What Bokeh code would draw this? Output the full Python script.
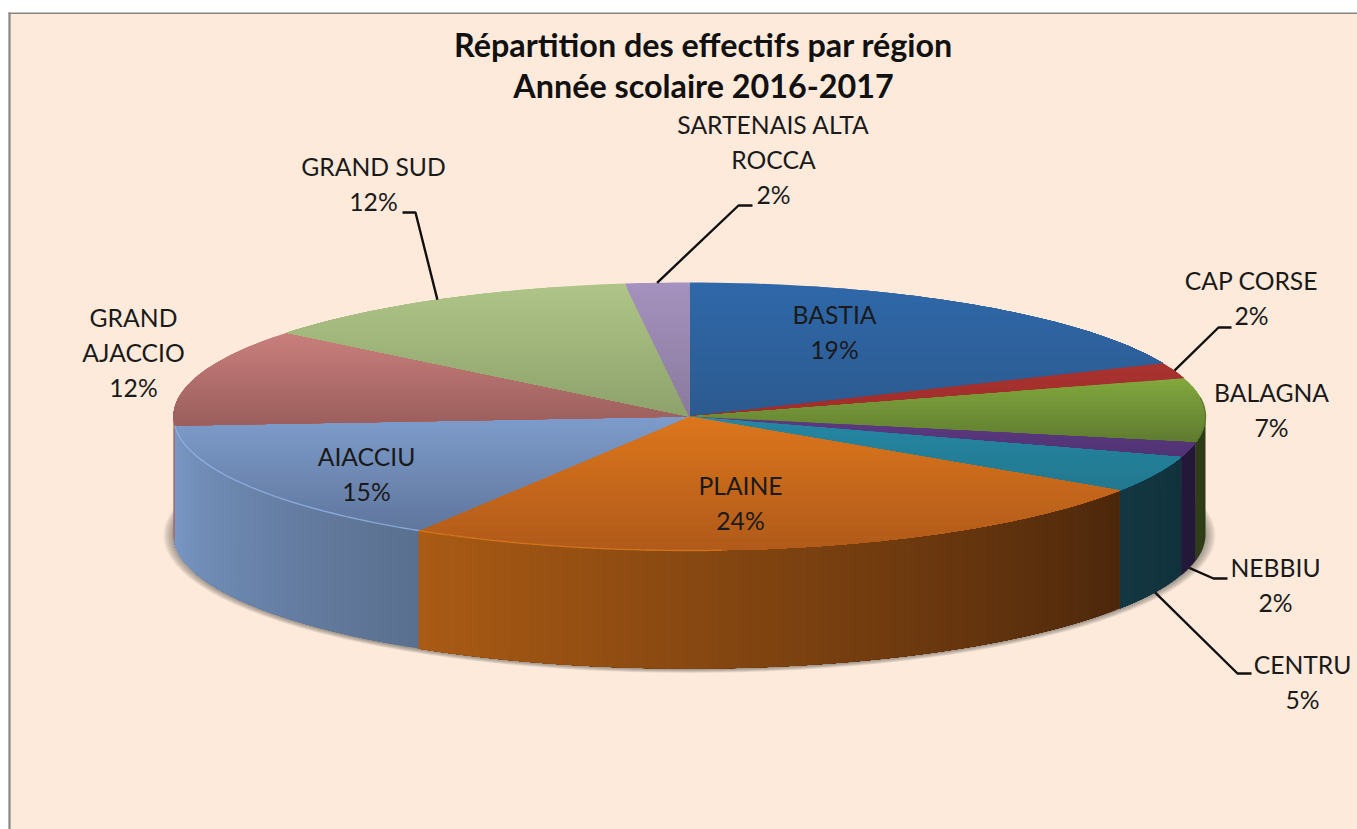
import math
from bokeh.plotting import figure
from bokeh.models import Range1d
from bokeh.core.properties import value
from bokeh.embed import file_html
from bokeh.resources import INLINE

# ---- data ----
title_lines = ["Répartition des effectifs par région", "Année scolaire 2016-2017"]
categories = ["BASTIA", "CAP CORSE", "BALAGNA", "NEBBIU", "CENTRU", "PLAINE", "AIACCIU",
              "GRAND\nAJACCIO", "GRAND SUD", "SARTENAIS ALTA\nROCCA"]
shares = [18.5, 1.9, 7.7, 1.8, 4.4, 24.5, 15.1, 11.85, 12.25, 2.0]
pct_labels = ["19%", "2%", "7%", "2%", "5%", "24%", "15%", "12%", "12%", "2%"]

# ---- styles ----
top_colors = [("#2F68A9", "#2C5A8F"), ("#A8322F", "#A02E2B"), ("#82A83D", "#5F7B30"),
              ("#5C3A84", "#503272"), ("#2587A3", "#22788F"), ("#DC761C", "#B05A1A"),
              ("#7E9CCB", "#5F769D"), ("#C97F7C", "#9A5E5C"), ("#AFC588", "#8CA26B"),
              ("#A592BE", "#8A7A9E")]
side_colors = [("#2C5A8F", "#2C5A8F"), ("#7E2523", "#7E2523"), ("#2F3E16", "#2C3A14"),
               ("#25193B", "#231736"), ("#133742", "#11323C"), ("#AA5B14", "#4C270C"),
               ("#7A99C7", "#5A6F8F"), ("#A56462", "#A56462"), ("#8CA26B", "#8CA26B"),
               ("#8A7A9E", "#8A7A9E")]
BG = "#FDEADA"
TXT = "#1A1A1A"
FONT = "Lato"
FS = "24.7px"
CX, CY, RX, RY, DEPTH = 689.0, 416.0, 516.0, 134.0, 118.0

# label placement: centre x and y of the first line, line pitch, elbow path of the leader
label_pos = [(834, 314), (1251, 280), (1271, 392), (1275, 567), (1302, 664),
             (740, 485), (366, 456), (133, 317), (373, 166), (773, 124)]
LINE_H = 35
leader_paths = {1: [(1218, 327), (1231, 327)], 3: [(1213, 578), (1227, 578)],
                4: [(1237, 673), (1251, 673)], 8: [(415, 212), (402, 212)],
                9: [(738, 205), (752, 205)]}


def hex2rgb(h):
    return tuple(int(h[i:i + 2], 16) for i in (1, 3, 5))


def mix(c0, c1, t):
    a, b = hex2rgb(c0), hex2rgb(c1)
    t = max(0.0, min(1.0, t))
    return "#%02x%02x%02x" % tuple(round(a[i] + (b[i] - a[i]) * t) for i in range(3))


def pt(theta, dy=0.0):
    return CX + RX * math.sin(theta), CY - RY * math.cos(theta) + dy


def clip_below(poly, limit):
    out = []
    n = len(poly)
    for i in range(n):
        a, b = poly[i], poly[(i + 1) % n]
        ia, ib = a[1] >= limit, b[1] >= limit
        if ia:
            out.append(a)
        if ia != ib:
            t = (limit - a[1]) / (b[1] - a[1])
            out.append((a[0] + (b[0] - a[0]) * t, limit))
    return out


total = sum(shares)
edges = [0.0]
for s in shares:
    edges.append(edges[-1] + s / total * 2 * math.pi)
mids = [(edges[i] + edges[i + 1]) / 2 for i in range(len(shares))]

p = figure(width=1357, height=829, x_range=Range1d(0, 1357), y_range=Range1d(829, 0),
           output_backend="svg", toolbar_location=None, min_border=0,
           background_fill_color="white", border_fill_color="white")
p.axis.visible = False
p.grid.visible = False
p.outline_line_color = None

# chart area and its frame
p.quad(left=[9], right=[1357], top=[13], bottom=[829], fill_color=BG, line_color=None)
p.line([9, 9], [829, 12], line_color="#868686", line_width=2.2)
p.line([8, 1357], [12.7, 12.7], line_color="#868686", line_width=1.6)

# soft shadow under the pie
for k in range(8):
    n = 120
    rx = RX + 10 - k * 1.4
    ry = RY + 3.5 - k * 0.5
    xs = [CX + rx * math.sin(2 * math.pi * i / n) for i in range(n)]
    ys = [CY + DEPTH + 1 - ry * math.cos(2 * math.pi * i / n) for i in range(n)]
    p.patch(xs, ys, fill_color="#3A3A3A", fill_alpha=0.07, line_color=None)

# side wall: strips painted from the slice's start onward, so no seam shows between them
sx, sy, sc = [], [], []
for i in range(len(shares)):
    a, b = max(edges[i], math.pi / 2), min(edges[i + 1], 3 * math.pi / 2)
    if b <= a:
        continue
    xa, xb = pt(a)[0], pt(b)[0]
    m = max(2, int(abs(xb - xa) / 6))
    for j in range(m):
        t0 = a + (b - a) * j / m
        arc = [pt(t0 + (b - t0) * q / 40) for q in range(41)]
        sx.append([q[0] for q in arc] + [q[0] for q in reversed(arc)])
        sy.append([q[1] for q in arc] + [q[1] + DEPTH for q in reversed(arc)])
        # the ramp runs from the slice's left end (xb) to its right end (xa)
        sc.append(mix(side_colors[i][1], side_colors[i][0], (j + 0.5) / m))
p.patches(sx, sy, fill_color=sc, line_color=None)

# top face: bands painted from the top downward, so no seam shows between them
tx, ty, tc = [], [], []
for i in range(len(shares)):
    a, b = edges[i], edges[i + 1]
    m = max(8, int((b - a) * 40))
    poly = [(CX, CY)] + [pt(a + (b - a) * q / m) for q in range(m + 1)]
    y0, y1 = min(q[1] for q in poly), max(q[1] for q in poly)
    bands = max(4, int((y1 - y0) / 4))
    for j in range(bands):
        piece = clip_below(poly, y0 + (y1 - y0) * j / bands)
        if len(piece) < 3:
            continue
        tx.append([q[0] for q in piece])
        ty.append([q[1] for q in piece])
        tc.append(mix(top_colors[i][0], top_colors[i][1], (j + 0.5) / bands))
p.patches(tx, ty, fill_color=tc, line_color=None)

# rim shading on the top face: light on the front-left slices, dark on the right end
for i, col, f0, alpha in ((6, "#93B3E6", 0.0, 0.8), (5, "#E5841F", 0.6, 0.6), (2, "#55702A", 0.3, 0.7)):
    a, b = edges[i], edges[i + 1]
    a = a + (b - a) * f0
    arc = [pt(a + (b - a) * q / 60) for q in range(61)]
    p.line([q[0] for q in arc], [q[1] for q in arc], line_color=col, line_width=1.4, line_alpha=alpha)

# leader lines start on the pie at each slice's mid-angle
for i, path in leader_paths.items():
    front = math.pi / 2 < mids[i] < 3 * math.pi / 2
    pts = [pt(mids[i], DEPTH if front else 0.0)] + path
    p.line([q[0] for q in pts], [q[1] for q in pts], line_color="#111111", line_width=2.4)

# data labels
lx, ly, lt = [], [], []
for i, name in enumerate(categories):
    for k, s in enumerate(name.split("\n") + [pct_labels[i]]):
        lx.append(label_pos[i][0])
        ly.append(label_pos[i][1] + k * LINE_H)
        lt.append(s)
p.text(x=lx, y=ly, text=lt, text_font=value(FONT), text_font_size=value(FS), text_color=TXT,
       text_align="center", text_baseline="middle")

# title
p.text(x=[703, 703], y=[44, 85], text=title_lines, text_font=value(FONT), text_font_size=value("32.3px"),
       text_font_style="bold", text_color="#111111", text_align="center", text_baseline="middle")

open("out.html", "w").write(file_html(p, INLINE))
